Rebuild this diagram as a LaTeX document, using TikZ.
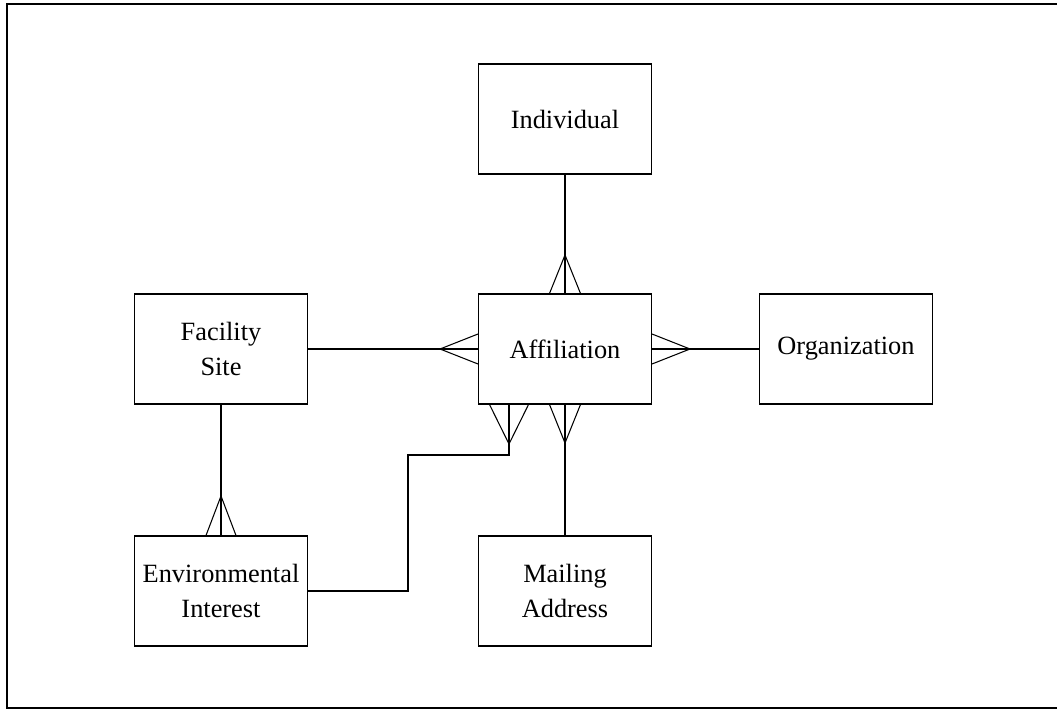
\documentclass[tikz,border=0pt]{standalone}
\usepackage{fontspec}
\setmainfont{Liberation Serif}
\usetikzlibrary{arrows}

\tikzset{entity/.style={draw, rectangle, minimum width=3.46cm, minimum height=2.2cm,
    align=center, font=\fontsize{15}{19.8}\selectfont}}

\begin{document}
\begin{tikzpicture}[x=0.02cm, y=-0.02cm, line width=0.6pt]
        \useasboundingbox (0,0) rectangle (1057,709);
        \draw (1057,4) -| (7,708) -- (1057,708);

        \draw (565,119) node [entity] (ind) {Individual};
        \draw (221,349) node [entity] (fac) {Facility\\Site};
        \draw (565,349) node [entity] (aff) {Affiliation};
        \draw (846,349) node [entity] (org) {Organization};
        \draw (221,591) node [entity] (env) {Environmental\\Interest};
        \draw (565,591) node [entity] (mail) {Mailing\\Address};

        \draw (ind) -- (aff);
        \draw (fac) -- (aff);
        \draw (aff) -- (org);
        \draw (aff) -- (mail);
        \draw (fac) -- (env);
        \draw (env.east) -| (408,455) -| ([xshift=-1.12cm]aff.south);

        % crow's feet
        \draw ([xshift=-0.31cm]aff.north) -- (565,255) -- ([xshift=0.31cm]aff.north);
        \draw ([yshift=0.3cm]aff.west) -- (440,349) -- ([yshift=-0.3cm]aff.west);
        \draw ([yshift=0.3cm]aff.east) -- (690,349) -- ([yshift=-0.3cm]aff.east);
        \draw ([xshift=-0.31cm]aff.south) -- (565,443) -- ([xshift=0.31cm]aff.south);
        \draw ([xshift=-1.51cm]aff.south) -- (509,444) -- ([xshift=-0.73cm]aff.south);
        \draw ([xshift=-0.3cm]env.north) -- (221,496) -- ([xshift=0.3cm]env.north);
    \end{tikzpicture}
\end{document}
